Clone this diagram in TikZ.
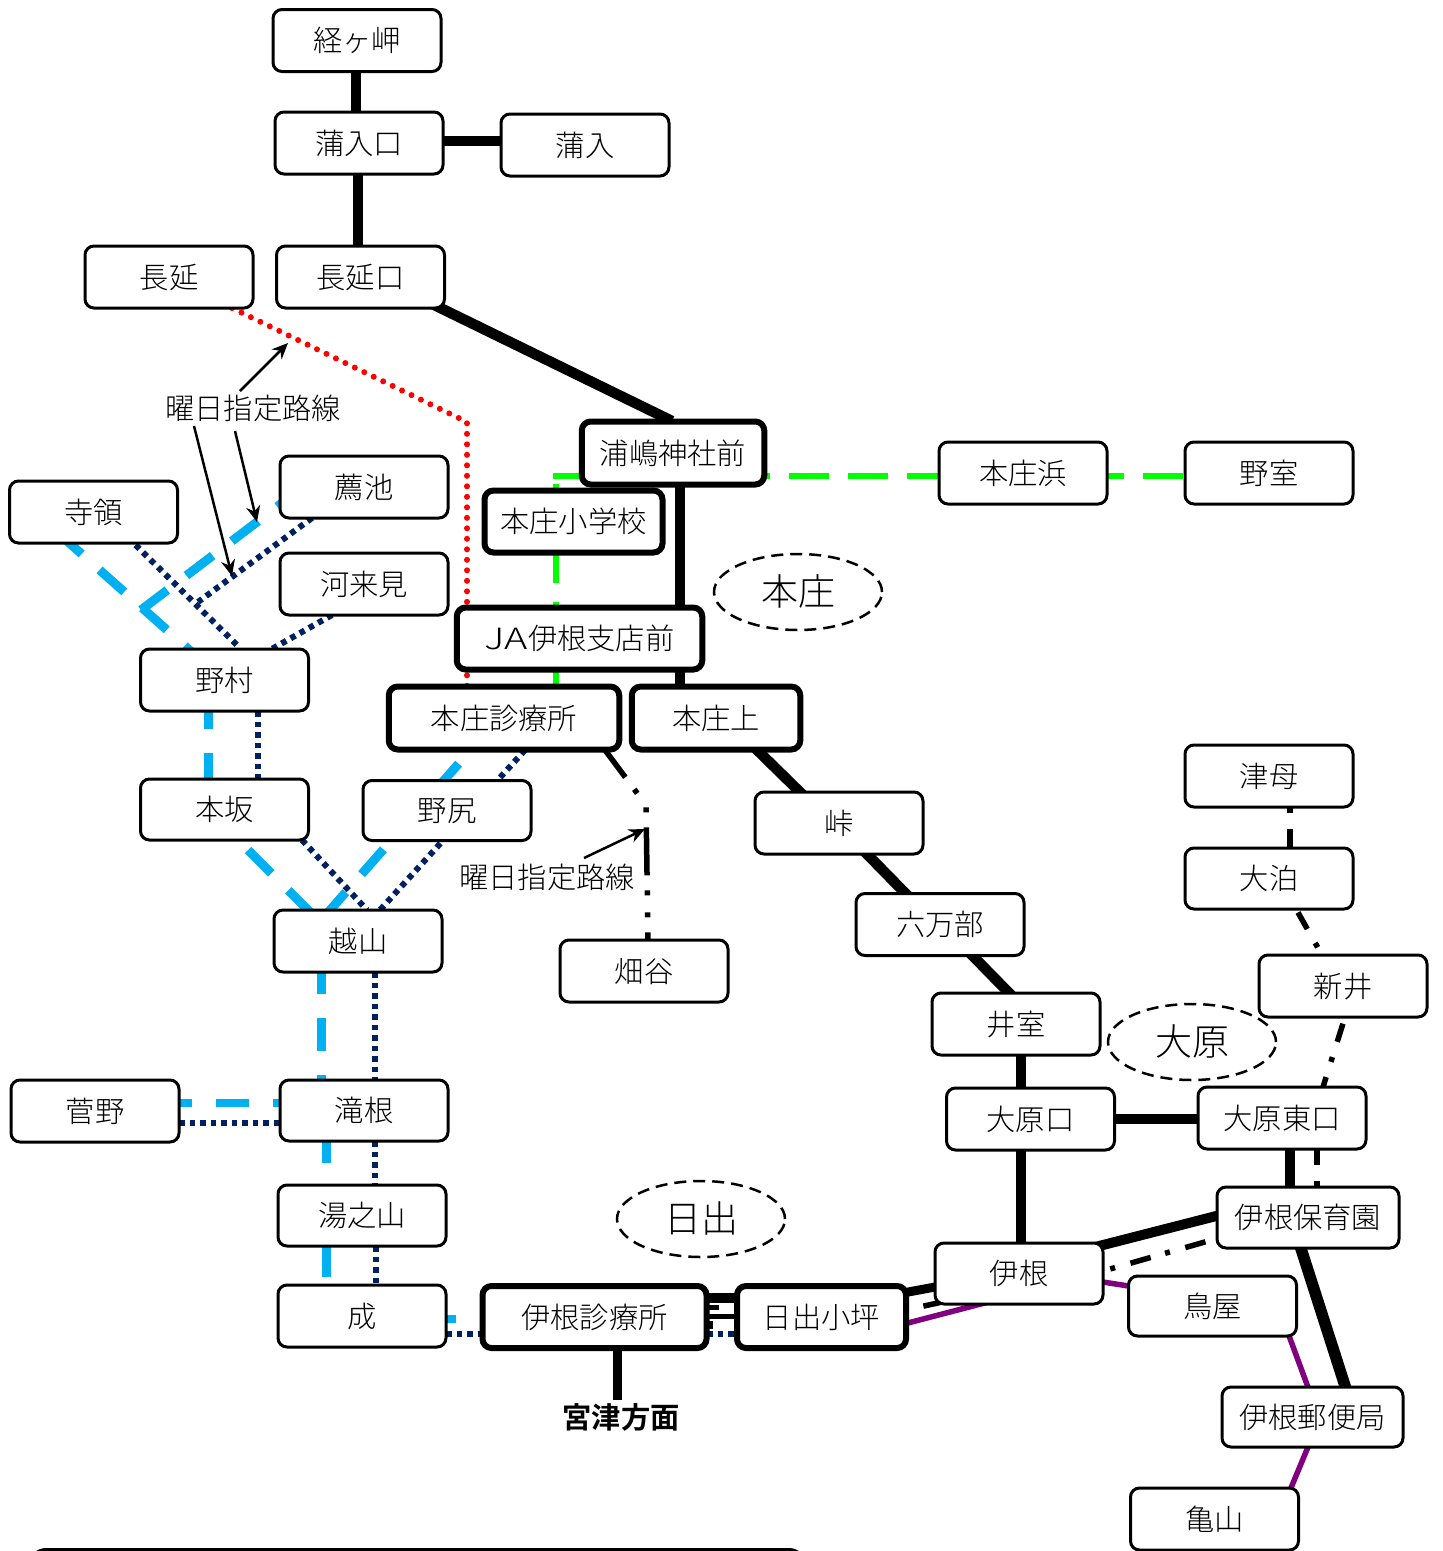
\documentclass[tikz,border=0pt]{standalone}
\usepackage{fontspec}
\usepackage{graphicx}
\setmainfont{Noto Sans CJK JP}[UprightFont=* Light,BoldFont=* Bold]
\usetikzlibrary{calc,backgrounds,shapes.geometric,arrows.meta}
\tikzset{
  stn/.style={draw=black,fill=white,line width=3pt,rounded corners=9pt,inner sep=0pt,
    minimum width=168pt,minimum height=62pt,text height=25pt,text depth=3pt,font=\fontsize{29.3}{29}\selectfont},
  stb/.style={stn,line width=6pt},
  area/.style={draw=black,ellipse,line width=2.5pt,dash pattern=on 12pt off 7pt,inner sep=0pt,
    minimum width=168pt,minimum height=76pt,text height=30pt,text depth=4pt,font=\fontsize{37}{37}\selectfont},
  lab/.style={inner sep=0pt,text height=25pt,text depth=3pt,font=\fontsize{29.3}{29}\selectfont},
  bk/.style={draw=black,line width=10.5pt},
  bkm/.style={draw=black,line width=5pt},
  pu/.style={color={rgb,255:red,128;green,0;blue,128},line width=5.5pt},
  dd/.style={draw=black,line width=5.5pt,dash pattern=on 19pt off 16pt on 5pt off 16pt},
  ddl/.style={draw=black,line width=5.5pt,dash pattern=on 48pt off 15pt on 5pt off 17pt on 5pt off 15pt,dash phase=14pt},
  gr/.style={color={rgb,255:red,0;green,255;blue,0},line width=6pt,dash pattern=on 40pt off 19pt},
  rd/.style={color=red,line width=6pt,line cap=round,dash pattern=on 0pt off 10.5pt},
  cy/.style={color={rgb,255:red,0;green,176;blue,240},line width=9pt,dash pattern=on 33pt off 24pt},
  nv/.style={color={rgb,255:red,0;green,32;blue,96},line width=6pt,dash pattern=on 5.5pt off 5pt},
  arr/.style={draw=black,line width=2.5pt,-{Stealth[length=16pt,width=14pt]}},
}
\begin{document}
\begin{tikzpicture}[x=1pt,y=-1pt]
\useasboundingbox (0,0) rectangle (1443,1551);
% stations
\node[stn] (kyo) at (357,40.5) {経ヶ岬};
\node[stn] (kamaguchi) at (359,143) {蒲入口};
\node[stn] (kama) at (585,145) {蒲入};
\node[stn] (naga) at (169,277) {長延};
\node[stn] (nagaguchi) at (360.5,277) {長延口};
\node[stb,minimum width=182.5pt,minimum height=63pt] (ura) at (673,453) {浦嶋神社前};
\node[stb,minimum width=178pt,minimum height=62pt] (shogaku) at (573.5,521.5) {本庄小学校};
\node[stn] (hama) at (1023,473) {本庄浜};
\node[stn] (nomuro) at (1269,473) {野室};
\node[stn] (komo) at (364,487) {薦池};
\node[stn] (jiryo) at (93.5,512) {寺領};
\node[stn] (kawa) at (364,584) {河来見};
\node[stb,minimum width=245.5pt,minimum height=62pt] (ja) at (579.5,638.5) {\scalebox{1.35}[1]{JA}伊根支店前};
\node[stn] (nomura) at (224.5,680) {野村};
\node[stb,minimum width=230.5pt,minimum height=63pt] (shinryo) at (504,718) {本庄診療所};
\node[stb,minimum width=168.5pt,minimum height=63pt] (joue) at (716,718) {本庄上};
\node[stn,minimum height=61pt] (honsaka) at (224.5,809.5) {本坂};
\node[stn,minimum height=60pt] (nojiri) at (447,810.5) {野尻};
\node[stn] (toge) at (839,823) {峠};
\node[stn] (tsubo) at (1269,776) {津母};
\node[stn,minimum height=61pt] (otomari) at (1269,878.5) {大泊};
\node[stn] (roppo) at (940,924.5) {六万部};
\node[stn] (koshi) at (358,941) {越山};
\node[stn] (hata) at (644,971) {畑谷};
\node[stn] (arai) at (1343,986) {新井};
\node[stn] (imuro) at (1016,1024) {井室};
\node[stn] (ohara) at (1030.5,1119) {大原口};
\node[stn] (oharahi) at (1282,1118) {大原東口};
\node[stn] (suge) at (95,1111) {菅野};
\node[stn,minimum height=61pt] (taki) at (364,1110.5) {滝根};
\node[stn,minimum height=61pt] (yuno) at (362,1215.5) {湯之山};
\node[stn,minimum width=182pt,minimum height=61pt] (hoiku) at (1308,1217.5) {伊根保育園};
\node[stn,minimum height=61pt] (ine) at (1019,1273.5) {伊根};
\node[stn,minimum height=60pt] (toya) at (1212.5,1306) {鳥屋};
\node[stn] (nari) at (362,1316) {成};
\node[stb,minimum width=224pt,minimum height=62pt] (inesin) at (594.5,1317) {伊根診療所};
\node[stb,minimum width=169pt,minimum height=62pt] (hinode) at (821.5,1317) {日出小坪};
\node[stn,minimum width=181pt,minimum height=60pt] (yubin) at (1312.5,1417) {伊根郵便局};
\node[stn] (kame) at (1214.5,1519) {亀山};
% areas
\node[area] (a1) at (798,592) {本庄};
\node[area] (a2) at (1192,1042) {大原};
\node[area] (a3) at (701,1219) {日出};
% labels
\node[lab,font=\fontsize{29.3}{29}\selectfont\bfseries] (miya) at (621,1417) {宮津方面};
\node[lab] (lbla) at (253,408) {曜日指定路線};
\node[lab] (lblb) at (547,877) {曜日指定路線};
% free ends
\coordinate (gc) at (556,476);
\coordinate (rc) at (467,422);
\coordinate (cc) at (141,610);
\coordinate (nc) at (198,602);
\coordinate (bc) at (646,805);
\coordinate (t1) at (288,343);
\coordinate (t2) at (257,522);
\coordinate (t3) at (232,576);
\coordinate (t4) at (645,829);
\begin{pgfonlayer}{background}
\fill[white] (0,0) rectangle (1443,1551);
% green
\draw[gr] ($(gc)+(-3,0)$) -- ($(nomuro)+(0,3)$);
\draw[gr] ($(gc)+(0,8)$) -- ($(shinryo)+(52,0)$);
% red
\draw[rd] ($(naga)+(63,31)$) -- (rc) -- ($(shinryo)+(-37,0)$);
% cyan
\draw[cy] ($(jiryo)+(-36.5,20)$) -- ($(nomura)+(-29.5,-25)$);
\draw[cy] (cc) -- ($(komo)+(-82,16)$);
\draw[cy] ($(nomura)+(-16.5,16)$) -- ($(honsaka)+(-16.5,0)$);
\draw[cy,dash phase=40pt] ($(honsaka)+(11.5,28.5)$) -- ($(koshi)+(-48,-29)$);
\draw[cy] ($(koshi)+(-34,-24)$) -- ($(shinryo)+(-29,27)$);
\draw[cy] ($(koshi)+(-37,20)$) -- ($(taki)+(-43,0)$);
\draw[cy] ($(taki)+(-38,19.5)$) -- ($(nari)+(-36,0)$);
\draw[cy,line width=8pt] ($(suge)+(64,-8)$) -- ($(taki)+(0,-7.5)$);
\draw[cy,line width=8pt] ($(nari)+(61,3)$) -- ($(inesin)+(0,2)$);
% navy
\draw[nv] ($(jiryo)+(42,33)$) -- ($(nomura)+(15.5,-32)$);
\draw[nv] ($(komo)+(-52,31)$) -- (nc);
\draw[nv] ($(kawa)+(-32,31)$) -- ($(nomura)+(45.5,-30)$);
\draw[nv] ($(nomura)+(33.5,31)$) -- ($(honsaka)+(33.5,-30.5)$);
\draw[nv] ($(honsaka)+(77.5,30.5)$) -- ($(koshi)+(9,-31)$);
\draw[nv] ($(shinryo)+(21,32)$) -- ($(koshi)+(22,-31)$);
\draw[nv] ($(koshi)+(16.5,31)$) -- ($(taki)+(10.5,-30.5)$);
\draw[nv] ($(taki)+(10.5,30.5)$) -- ($(yuno)+(12.5,-30.5)$);
\draw[nv] ($(yuno)+(14,30.5)$) -- ($(nari)+(14,-31)$);
\draw[nv] ($(suge)+(84,12)$) -- ($(taki)+(-84,12.5)$);
\draw[nv] ($(nari)+(84,18)$) -- ($(inesin)+(-112.5,17)$);
\draw[nv] ($(inesin)+(112.5,17)$) -- ($(hinode)+(-84.5,17)$);
% purple
\draw[pu] ($(hinode)+(0,28.5)$) -- ($(ine)+(0,20.5)$);
\draw[pu] ($(ine)+(0,-4.5)$) -- ($(toya)+(0,-7)$);
\draw[pu] ($(toya)+(65.5,0)$) -- ($(yubin)+(6.5,0)$);
\draw[pu] ($(yubin)+(8,0)$) -- ($(kame)+(63.5,0)$);
% dash-dot
\draw[dd,dash pattern=on 21pt off 16pt on 5pt off 15pt,dash phase=45pt] ($(hoiku)+(-91,21)$) -- ($(ine)+(84,-2.5)$);
\draw[dd] ($(oharahi)+(35,28)$) -- ($(hoiku)+(9,-30.5)$);
\draw[dd] ($(otomari)+(21,-30.5)$) -- ($(tsubo)+(21,31)$);
\draw[dd,dash phase=52pt] ($(otomari)+(27,30.5)$) -- ($(arai)+(-21,-31)$);
\draw[dd,dash phase=49pt] ($(arai)+(2,31)$) -- ($(oharahi)+(41,-31)$);
\draw[ddl] ($(shinryo)+(101,32)$) -- (bc) -- ($(hata)+(4,-31)$);
\draw[dd,dash pattern=on 17pt off 50pt] ($(ine)+(-79,29)$) -- ($(hinode)+(84,-7)$);
\draw[bkm,dash pattern=on 12pt off 20pt] ($(inesin)+(112.5,-10)$) -- ($(hinode)+(-84.5,-10)$);
\draw[bkm,line width=8pt,dash pattern=on 6pt off 26pt] ($(inesin)+(112.5,8)$) -- ($(hinode)+(-84.5,8)$);
% black
\draw[bk,line width=10pt] ($(kyo)+(-1,0)$) -- ($(kamaguchi)+(-3,0)$);
\draw[bk] ($(kamaguchi)+(0,-2)$) -- ($(kama)+(0,-4)$);
\draw[bk] ($(kamaguchi)+(-1,0)$) -- ($(nagaguchi)+(-2.5,0)$);
\draw[bk] ($(nagaguchi)+(0,-8)$) -- ($(ura)+(-1,-32)$);
\draw[bk] ($(ura)+(7,0)$) -- ($(joue)+(-36,0)$);
\draw[bk] ($(joue)+(34,25)$) -- ($(toge)+(-34,-26)$);
\draw[bk] ($(toge)+(21,24)$) -- ($(roppo)+(-28,-24.5)$);
\draw[bk] ($(roppo)+(26,24.5)$) -- ($(imuro)+(-1,-25)$);
\draw[bk] ($(imuro)+(5,0)$) -- ($(ohara)+(-9.5,0)$);
\draw[bk] ($(ohara)+(-9.5,0)$) -- ($(ine)+(2,0)$);
\draw[bk] (ohara) -- ($(oharahi)+(0,1)$);
\draw[bk] ($(oharahi)+(8,0)$) -- ($(hoiku)+(-18,0)$);
\draw[bk,line width=10pt] ($(ine)+(0,-7)$) -- ($(hoiku)+(0,-25)$);
\draw[bk,line width=11.5pt] ($(hoiku)+(-17,0)$) -- ($(yubin)+(42.5,0)$);
\draw[bk,line width=9pt] ($(ine)+(0,-2)$) -- ($(hinode)+(0,-9)$);
\draw[bk,line width=9.5pt] ($(inesin)+(0,-19)$) -- ($(hinode)+(0,-19)$);
\draw[bkm] ($(inesin)+(0,-1)$) -- ($(hinode)+(0,-1)$);
\draw[bk,line width=9pt] ($(inesin)+(22.5,0)$) -- ($(miya)+(-4,-17)$);
\end{pgfonlayer}
% arrows
\draw[arr] ($(lbla)+(-13,-17)$) -- (t1);
\draw[arr] ($(lbla)+(-18,23)$) -- (t2);
\draw[arr] ($(lbla)+(-59,18)$) -- (t3);
\draw[arr] ($(lblb)+(37,-19)$) -- (t4);
% partly visible panel at the bottom
\begin{scope}
\clip (0,0) rectangle (1443,1551);
\draw[line width=3pt,rounded corners=16pt] (30,1549.5) rectangle (805,1620);
\end{scope}
\end{tikzpicture}
\end{document}
